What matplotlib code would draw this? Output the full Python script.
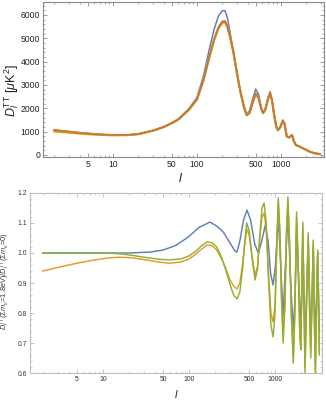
import matplotlib
matplotlib.use("Agg")
import matplotlib.pyplot as plt
from matplotlib.ticker import FixedLocator, NullFormatter, FuncFormatter

plt.rcParams['font.family'] = ['Liberation Sans', 'DejaVu Sans']
plt.rcParams['mathtext.fontset'] = 'custom'
plt.rcParams['mathtext.rm'] = 'Liberation Sans'
plt.rcParams['mathtext.it'] = 'Liberation Sans:italic'
plt.rcParams['mathtext.bf'] = 'Liberation Sans:bold'

# ---------------- data: top panel (D_l^TT in muK^2) ----------------
l_top = [2, 3, 4, 5, 7, 10, 15, 20, 30, 40, 50, 60, 80, 100, 120, 140, 160, 180, 200, 215,
         230, 250, 270, 290, 310, 330, 360, 390, 420, 460, 500, 540, 580, 610, 650, 700, 740, 780, 830, 880,
         920, 980, 1050, 1100, 1170, 1250, 1350, 1420, 1500, 1650, 1800, 2000, 2200, 2500, 2900]
D_red = [1065, 1000, 950, 920, 880, 855, 860, 900, 1050, 1200, 1370, 1530, 1950, 2400, 3250, 4200, 4950, 5450, 5690, 5710,
         5500, 5000, 4450, 3800, 3200, 2700, 2100, 1720, 1800, 2250, 2620, 2450, 2000, 1800, 1950, 2400, 2640, 2350, 1700, 1200,
         1070, 1200, 1480, 1350, 800, 760, 860, 600, 430, 370, 300, 220, 140, 80, 40]
D_orange = [1010, 955, 915, 890, 862, 842, 850, 890, 1040, 1195, 1365, 1525, 1940, 2390, 3240, 4200, 4970, 5480, 5730, 5750,
            5530, 5010, 4450, 3790, 3180, 2680, 2080, 1710, 1800, 2260, 2640, 2460, 2000, 1790, 1950, 2410, 2660, 2360, 1700, 1190,
            1060, 1190, 1470, 1340, 790, 750, 850, 595, 425, 365, 295, 215, 137, 78, 39]
D_green = [1065, 1000, 950, 920, 880, 855, 858, 897, 1045, 1195, 1362, 1520, 1935, 2385, 3230, 4180, 4930, 5430, 5670, 5690,
           5480, 4980, 4430, 3780, 3180, 2680, 2080, 1700, 1790, 2240, 2610, 2440, 1990, 1790, 1940, 2390, 2630, 2340, 1690, 1190,
           1060, 1190, 1470, 1340, 790, 750, 850, 595, 425, 365, 295, 215, 137, 78, 39]
D_blue = [1065, 1000, 950, 920, 880, 855, 860, 900, 1050, 1200, 1375, 1545, 1985, 2470, 3420, 4520, 5400, 5960, 6180, 6190,
          5880, 5150, 4480, 3800, 3200, 2700, 2100, 1740, 1880, 2420, 2820, 2600, 2050, 1800, 1980, 2460, 2720, 2380, 1700, 1190,
          1060, 1200, 1490, 1350, 790, 750, 860, 600, 430, 368, 298, 218, 139, 79, 40]

# ---------------- data: bottom panel (ratios) ----------------
l_ratio = [2, 3, 5, 8, 12, 16, 22, 30, 40, 50, 60, 80, 100, 120, 140, 162, 185, 210, 240, 270,
           300, 330, 361, 390, 420, 445, 469, 500, 540, 585, 625, 665, 705, 745, 790, 840, 895, 950, 1000, 1045,
           1090, 1140, 1190, 1240, 1300, 1360, 1410, 1470, 1550, 1630, 1700, 1780, 1860, 1940, 1990, 2050, 2100, 2170, 2230, 2330,
           2430, 2520, 2600, 2690, 2780, 2860, 2940, 3040, 3130, 3270]
r_orange = [0.94, 0.952, 0.966, 0.977, 0.984, 0.986, 0.984, 0.978, 0.972, 0.968, 0.966, 0.97, 0.98, 0.996, 1.013, 1.027, 1.025, 1.01, 0.98, 0.945,
            0.91, 0.89, 0.88, 0.90, 0.965, 1.03, 1.08, 1.06, 0.99, 0.925, 0.955, 1.05, 1.12, 1.133, 1.08, 0.93, 0.80, 0.77, 0.83, 1.01,
            1.17, 1.06, 0.85, 0.72, 0.83, 1.07, 1.17, 1.04, 0.79, 0.66, 0.81, 1.12, 0.95, 0.73, 0.69, 0.90, 1.09, 0.83, 0.62, 0.85,
            1.055, 0.81, 0.67, 0.85, 1.035, 0.79, 0.61, 0.82, 1.0, 0.67]
r_green = [1.0, 1.0, 1.0, 1.0, 0.999, 0.997, 0.992, 0.986, 0.981, 0.978, 0.977, 0.98, 0.99, 1.006, 1.024, 1.037, 1.034, 1.02, 0.985, 0.94,
           0.895, 0.86, 0.847, 0.87, 0.95, 1.04, 1.10, 1.075, 0.985, 0.91, 0.945, 1.06, 1.15, 1.167, 1.10, 0.91, 0.76, 0.72, 0.80, 1.02,
           1.183, 1.07, 0.84, 0.70, 0.82, 1.08, 1.187, 1.05, 0.78, 0.633, 0.80, 1.137, 0.95, 0.72, 0.677, 0.90, 1.103, 0.82, 0.60, 0.85,
           1.067, 0.80, 0.65, 0.85, 1.043, 0.78, 0.593, 0.82, 1.01, 0.66]
l_blue = [2, 10, 20, 35, 50, 70, 100, 130, 175, 210, 250, 300, 340, 361, 392, 430, 472, 520, 580, 640,
          700, 770, 830, 890, 950, 1010, 1090, 1160, 1240, 1330, 1410, 1520, 1630, 1710, 1780, 1880, 1990, 2050, 2100, 2170,
          2230, 2330, 2430, 2520, 2600, 2690, 2780, 2860, 2940, 3040, 3130, 3270]
r_blue = [1.0, 1.0, 1.0, 1.003, 1.01, 1.025, 1.055, 1.085, 1.103, 1.09, 1.07, 1.033, 1.008, 1.003, 1.043, 1.11, 1.143, 1.11, 1.03, 1.0,
          1.04, 1.093, 1.04, 0.93, 0.893, 0.96, 1.12, 0.97, 0.79, 0.98, 1.13, 0.90, 0.74, 0.86, 1.09, 0.92, 0.75, 0.88, 1.06, 0.86,
          0.70, 0.87, 1.04, 0.86, 0.72, 0.85, 1.02, 0.84, 0.70, 0.86, 1.00, 0.74]

x_major = [5, 10, 50, 100, 500, 1000]
x_minor = [2, 3, 4, 6, 7, 8, 9, 20, 30, 40, 60, 70, 80, 90, 200, 300, 400, 600, 700, 800, 900, 2000, 3000]
top_yticks = [0, 1000, 2000, 3000, 4000, 5000, 6000]
bot_yticks = [0.6, 0.7, 0.8, 0.9, 1.0, 1.1, 1.2]

C_BLUE = '#5E81B5'
C_ORANGE = '#E19C24'
C_GREEN = '#8FB032'
C_RED = '#EB6235'

fig = plt.figure(figsize=(3.26, 4.0), dpi=100)

# ---------------- top panel ----------------
ax1 = fig.add_axes([0.132, 0.6075, 0.862, 0.3875])
ax1.plot(l_top, D_blue, color=C_BLUE, lw=1.1)
ax1.plot(l_top, D_orange, color=C_ORANGE, lw=1.5)
ax1.plot(l_top, D_green, color=C_GREEN, lw=1.5)
ax1.plot(l_top, D_red, color=C_RED, lw=1.1, alpha=0.85)
ax1.set_xscale('log')
ax1.set_xlim(1.47, 3250)
ax1.set_ylim(-86, 6557)
ax1.xaxis.set_major_locator(FixedLocator(x_major))
ax1.xaxis.set_minor_locator(FixedLocator(x_minor))
ax1.xaxis.set_major_formatter(FuncFormatter(lambda v, p: '%d' % v))
ax1.xaxis.set_minor_formatter(NullFormatter())
ax1.set_yticks(top_yticks)
ax1.yaxis.set_minor_locator(FixedLocator(list(range(0, 6600, 200))))
for s in ax1.spines.values():
    s.set_color('#8a8a8a')
    s.set_linewidth(0.8)
ax1.tick_params(which='both', direction='in', top=True, right=True, colors='#8a8a8a',
                labelcolor='#222222', labelsize=6.2, pad=2)
ax1.tick_params(which='major', length=3, width=0.6)
ax1.tick_params(which='minor', length=1.6, width=0.5)
ax1.set_ylabel(r'$D_l^{\rm TT}\ [\mu{\rm K}^2]$', fontsize=9, color='#222222')
ax1.yaxis.set_label_coords(-0.078, 0.43)
ax1.set_xlabel(r'$l$', fontsize=9, color='#222222')
ax1.xaxis.set_label_coords(0.49, -0.095)

# ---------------- bottom panel ----------------
ax2 = fig.add_axes([0.092, 0.0675, 0.896, 0.45])
ax2.plot(l_blue, r_blue, color=C_BLUE, lw=1.05)
ax2.plot(l_ratio, r_orange, color=C_ORANGE, lw=1.05)
ax2.plot(l_ratio, r_green, color=C_GREEN, lw=1.05)
ax2.set_xscale('log')
ax2.set_xlim(1.42, 3520)
ax2.set_ylim(0.6, 1.2)
ax2.xaxis.set_major_locator(FixedLocator(x_major))
ax2.xaxis.set_minor_locator(FixedLocator(x_minor))
ax2.xaxis.set_major_formatter(FuncFormatter(lambda v, p: '%d' % v))
ax2.xaxis.set_minor_formatter(NullFormatter())
ax2.set_yticks(bot_yticks)
ax2.yaxis.set_major_formatter(FuncFormatter(lambda v, p: '%.1f' % v))
ax2.yaxis.set_minor_locator(FixedLocator([0.6 + 0.02 * i for i in range(31)]))
for s in ax2.spines.values():
    s.set_color('#bdbdbd')
    s.set_linewidth(0.8)
ax2.tick_params(which='both', direction='in', top=True, right=True, colors='#bdbdbd',
                labelcolor='#333333', labelsize=4.9, pad=2)
ax2.tick_params(which='major', length=3, width=0.6)
ax2.tick_params(which='minor', length=1.6, width=0.5)
ax2.set_ylabel(r'$D_l^{\rm TT}(\Sigma m_\nu\!=\!1.8{\rm eV})/D_l^{\rm TT}(\Sigma m_\nu\!=\!0)$',
               fontsize=5.3, color='#333333')
ax2.yaxis.set_label_coords(-0.062, 0.51)
ax2.set_xlabel(r'$l$', fontsize=8, color='#222222')
ax2.xaxis.set_label_coords(0.5, -0.085)

fig.savefig('out.png', dpi=100)
